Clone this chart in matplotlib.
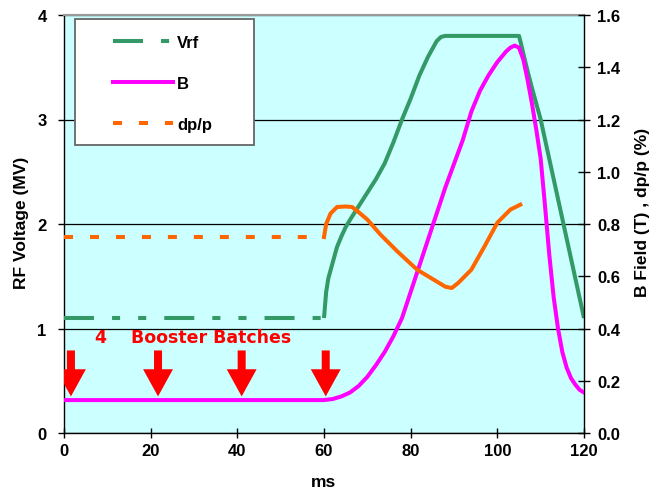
import matplotlib
matplotlib.use("Agg")
import matplotlib.pyplot as plt
from matplotlib.patches import Rectangle, FancyArrow
from matplotlib.lines import Line2D
from matplotlib.ticker import FormatStrFormatter

plt.rcParams['font.family'] = ['Liberation Sans', 'DejaVu Sans']
plt.rcParams['font.weight'] = 'bold'
plt.rcParams['axes.labelweight'] = 'bold'
plt.rcParams['lines.scale_dashes'] = False

# ---------------- data ----------------
series_labels = ['Vrf', 'B', 'dp/p']

# RF voltage (MV): flat injection part (dashed) and ramp (solid)
vrf_inj_t = [0, 60]
vrf_inj_v = [1.1, 1.1]
vrf_t = [60, 60.5, 61, 62, 63, 64, 65, 66, 68, 70, 72, 74, 76, 78, 80, 82, 84,
         86, 87, 88, 105, 105.5, 106, 107, 108, 110, 112, 114, 116, 118, 120]
vrf_v = [1.1, 1.35, 1.48, 1.63, 1.78, 1.88, 1.97, 2.04, 2.17, 2.3, 2.43, 2.58,
         2.78, 3.0, 3.2, 3.42, 3.6, 3.75, 3.79, 3.8, 3.8, 3.72, 3.63, 3.46,
         3.3, 3.0, 2.62, 2.24, 1.86, 1.48, 1.1]

# B field (T)
b_t = [0, 60, 62, 64, 66, 68, 70, 72, 74, 76, 78, 80, 82, 84, 86, 88, 90, 92,
       94, 96, 98, 100, 102, 103, 104, 105, 106, 107, 108, 109, 110, 111, 112,
       113, 114, 115, 116, 117, 118, 119, 120]
b_v = [0.126, 0.126, 0.13, 0.14, 0.155, 0.18, 0.215, 0.26, 0.31, 0.37, 0.44,
       0.54, 0.64, 0.74, 0.84, 0.94, 1.03, 1.12, 1.23, 1.31, 1.37, 1.42, 1.46,
       1.475, 1.483, 1.475, 1.43, 1.35, 1.26, 1.16, 1.05, 0.87, 0.68, 0.52,
       0.4, 0.31, 0.25, 0.21, 0.185, 0.165, 0.155]

# dp/p (%)
dp_inj_t = [0, 60]
dp_inj_v = [0.75, 0.75]
dp_t = [60, 60.5, 61.5, 63, 65, 66.5, 68, 70, 73, 77, 81.5, 85, 88, 89.5, 91,
        94, 97, 100, 103, 105.3]
dp_v = [0.75, 0.80, 0.84, 0.865, 0.867, 0.865, 0.845, 0.817, 0.76, 0.694,
        0.625, 0.59, 0.56, 0.555, 0.575, 0.625, 0.713, 0.805, 0.855, 0.874]

# booster batch injection times (ms)
batch_t = [1.6, 21.7, 41.0, 60.4]
batch_text = '4    Booster Batches'

left_ticks = [0, 1, 2, 3, 4]
right_ticks = [0.0, 0.2, 0.4, 0.6, 0.8, 1.0, 1.2, 1.4, 1.6]
x_ticks = [0, 20, 40, 60, 80, 100, 120]

# ---------------- style ----------------
GREEN = '#339966'
MAGENTA = '#FF00FF'
ORANGE = '#FF6600'
RED = '#FF0000'
BG = '#CCFFFF'
LW = 2.9
TFS = 12
green_dash = (21.6, 13.0, 5.8, 13.0, 5.8, 13.0)
orange_dash = (6.5, 12.2)

fig = plt.figure(figsize=(6.72, 4.89), dpi=100)
ax = fig.add_axes([64 / 672, 55 / 489, 520 / 672, 418 / 489])
ax.set_facecolor(BG)
ax.set_xlim(0, 120)
ax.set_ylim(0, 4)
ax.set_xticks(x_ticks)
ax.set_yticks(left_ticks)
ax.set_axisbelow(True)
ax.yaxis.grid(True, color='black', lw=0.9)
ax.tick_params(axis='y', direction='out', length=4.5, width=1, pad=8, labelsize=TFS)
ax.tick_params(axis='x', direction='inout', length=7, width=1, pad=4, labelsize=TFS)
for s in ['left', 'bottom']:
    ax.spines[s].set_color('black')
    ax.spines[s].set_linewidth(1)
ax.spines['top'].set_color('#999999')
ax.spines['top'].set_linewidth(1.5)
ax.spines['right'].set_visible(False)

ax.set_xlabel('ms', fontsize=12.5, labelpad=11)
ax.set_ylabel('RF Voltage (MV)', fontsize=12.5, labelpad=6)
ax.yaxis.label.set_y(0.505)

# Vrf
ax.plot(vrf_inj_t, vrf_inj_v, color=GREEN, lw=LW, dashes=green_dash,
        dash_capstyle='butt', zorder=3)
ax.plot(vrf_t, vrf_v, color=GREEN, lw=LW, zorder=3, solid_capstyle='butt')

# arrows and text
for t in batch_t:
    ax.add_patch(FancyArrow(t, 0.79, 0, -0.44, width=1.85, head_width=6.9,
                            head_length=0.26, length_includes_head=True,
                            color=RED, lw=0, zorder=4))
ax.text(7.2, 0.92, batch_text, color=RED, fontsize=12.5, fontweight='bold',
        family='DejaVu Sans', va='center', ha='left', zorder=5)

ax2 = ax.twinx()
ax2.set_ylim(0, 1.6)
ax2.set_yticks(right_ticks)
ax2.yaxis.set_major_formatter(FormatStrFormatter('%.1f'))
ax2.tick_params(axis='y', direction='inout', length=8.6, width=1, pad=5, labelsize=TFS)
for s in ['left', 'top', 'bottom']:
    ax2.spines[s].set_visible(False)
ax2.spines['right'].set_color('black')
ax2.spines['right'].set_linewidth(1)
ax2.set_ylabel('B Field (T) , dp/p (%)', fontsize=12.5, labelpad=11)
ax2.yaxis.label.set_y(0.53)

ax2.plot(b_t, b_v, color=MAGENTA, lw=LW, zorder=3)
ax2.plot(dp_inj_t, dp_inj_v, color=ORANGE, lw=LW, dashes=orange_dash,
         dash_capstyle='butt', zorder=4)
ax2.plot(dp_t, dp_v, color=ORANGE, lw=LW, zorder=4)

# legend
handles = [Line2D([], [], color=GREEN, lw=LW, dashes=green_dash, dash_capstyle='butt'),
           Line2D([], [], color=MAGENTA, lw=LW),
           Line2D([], [], color=ORANGE, lw=LW, dashes=orange_dash, dash_capstyle='butt')]
ax2.add_patch(Rectangle((11 / 520, (434 - 146) / 418), 179 / 520, 126 / 418,
                        transform=ax2.transAxes, facecolor='white',
                        edgecolor='#666666', lw=1.3, zorder=9))
leg = ax2.legend(handles, series_labels, loc='upper left',
                 bbox_to_anchor=((113 - 64) / 520, (434 - 36) / 418),
                 frameon=False, borderpad=0, borderaxespad=0,
                 handlelength=3.6, handletextpad=0.25, labelspacing=1.55,
                 prop={'size': 12, 'weight': 'bold'})
leg.set_zorder(10)

fig.savefig('out.png', dpi=100)
